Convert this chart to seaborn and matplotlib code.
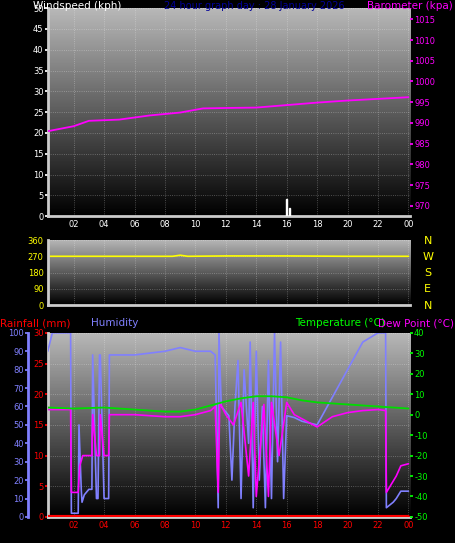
import numpy as np
import matplotlib
matplotlib.use("Agg")
import matplotlib.pyplot as plt
import seaborn as sns
from matplotlib.colors import LinearSegmentedColormap

# --- data ---
baro_t = [0.3, 2, 3, 5, 7, 9, 10.5, 12, 14, 16, 18, 20, 22, 24]
baro_v = [988.0, 989.2, 990.5, 990.8, 991.8, 992.5, 993.5, 993.6, 993.7, 994.3, 994.9, 995.4, 995.8, 996.2]

wind_t = [16.0, 16.2]
wind_v = [4.0, 2.0]

dir_t = [0.3, 8.5, 9.0, 9.5, 12, 16, 20, 24]
dir_v = [270, 270, 276, 270, 272, 272, 270, 270]

hum_t = [0.3, 0.6, 1.0, 1.8, 1.85, 2.3, 2.35, 2.5, 2.55, 2.7, 3.0, 3.2, 3.25, 3.5, 3.6,
         3.7, 3.75, 4.0, 4.05, 4.3, 4.35, 6, 8, 9, 10, 11, 11.3, 11.5, 11.55, 11.7,
         12.2, 12.4, 12.6, 12.8, 13.0, 13.2, 13.5, 13.6, 13.8, 14.0, 14.2, 14.4, 14.6,
         14.8, 15.0, 15.2, 15.4, 15.6, 15.8, 16.0, 16.5, 17, 18, 19, 20, 21, 22, 22.5,
         22.55, 23.0, 23.2, 23.5, 24.0]
hum_v = [90, 100, 100, 100, 2, 2, 50, 15, 8, 12, 15, 15, 88, 10, 10,
         88, 88, 10, 10, 10, 88, 88, 90, 92, 90, 90, 88, 5, 100, 60,
         55, 20, 60, 85, 10, 80, 40, 95, 5, 90, 20, 60, 5,
         85, 10, 100, 30, 95, 10, 55, 54, 52, 50, 65, 80, 95, 100, 100,
         5, 8, 10, 14, 14]

temp_t = [0.3, 2, 4, 6, 8, 9, 10, 11, 12, 13, 14, 15, 16, 17, 18, 20, 22, 23, 24]
temp_v = [3.5, 3.0, 3.5, 2.5, 1.5, 1.5, 2.5, 4.5, 6.5, 8.0, 9.0, 9.0, 8.5, 7.0, 6.0, 5.0, 4.0, 3.5, 3.0]

dew_t = [0.3, 1.8, 1.85, 2.3, 2.4, 2.6, 3.2, 3.25, 3.5, 3.7, 3.75, 4.0, 4.3, 4.35, 6, 8, 9,
         10, 11, 11.3, 11.5, 11.6, 12, 12.5, 13, 13.5, 13.8, 14, 14.5, 14.8, 15, 15.5, 16,
         16.5, 17, 18, 19, 20, 21, 22, 22.5, 22.55, 23.2, 23.5, 24.0]
dew_v = [2.5, 2.5, -38, -38, -25, -20, -20, 0, -20, -20, 0, -20, -20, 0, 0, -1, -1,
         0, 2, 4, -38, 6, 0, -5, 6, -30, 6, -40, 5, -40, 6, -20, 6,
         0, -2, -6, -1, 1, 2, 2.5, 2.0, -38, -30, -25, -24]

rain_t = [0.3, 24.0]
rain_v = [0.0, 0.0]

xticks = [2, 4, 6, 8, 10, 12, 14, 16, 18, 20, 22, 24]
xlabels = ["02", "04", "06", "08", "10", "12", "14", "16", "18", "20", "22", "00"]

sns.set_theme(style="dark")
plt.rcParams["font.family"] = ["DejaVu Sans"]
plt.rcParams["font.size"] = 6
plt.rcParams["axes.unicode_minus"] = False

fig = plt.figure(figsize=(4.55, 5.43), dpi=100, facecolor="black")
grad = LinearSegmentedColormap.from_list("g", ["#000000", "#b8b8b8"])
img = np.linspace(0, 1, 200).reshape(-1, 1)[::-1]


def base(ax, tickcol):
    ax.set_facecolor("black")
    ax.imshow(img, cmap=grad, extent=[0, 1, 0, 1], transform=ax.transAxes,
              aspect="auto", zorder=0)
    ax.set_xlim(0.3, 24.1)
    ax.set_xticks(xticks)
    ax.set_xticklabels(xlabels, color="yellow", fontsize=6)
    ax.grid(True, color="white", alpha=0.35, linestyle=":", linewidth=0.6)
    for s in ax.spines.values():
        s.set_visible(False)
    ax.spines["bottom"].set_visible(True)
    ax.spines["bottom"].set_color("#cccccc")
    ax.spines["bottom"].set_linewidth(2)
    ax.tick_params(colors=tickcol, length=2, pad=1, labelsize=6)


# top: wind + barometer
ax1 = fig.add_axes([0.105, 0.602, 0.796, 0.383])
base(ax1, "white")
ax1.bar(wind_t, wind_v, width=0.1, color="white", zorder=3)
ax1.set_ylim(0, 50)
ax1.set_yticks(range(0, 51, 5))
ax1.tick_params(axis="y", colors="white")
ax1.spines["left"].set_visible(True)
ax1.spines["left"].set_color("#cccccc")
ax1.spines["left"].set_linewidth(2)
ax1b = ax1.twinx()
sns.lineplot(x=baro_t, y=baro_v, ax=ax1b, color="#ff00ff", linewidth=1.3)
ax1b.set_ylim(967.5, 1017.7)
ax1b.set_yticks(range(970, 1016, 5))
ax1b.tick_params(axis="y", colors="#ff00ff", length=2, pad=1, labelsize=6)
ax1b.set_xlim(0.3, 24.1)
for s in ax1b.spines.values():
    s.set_visible(False)
ax1b.grid(False)
fig.text(0.072, 0.998, "Windspeed (kph)", color="white", fontsize=7.5, ha="left", va="top")
fig.text(0.56, 0.998, "24 hour graph day : 28 January 2026", color="#000099", fontsize=7, ha="center", va="top")
fig.text(0.995, 0.998, "Barometer (kpa)", color="#ff00ff", fontsize=7.5, ha="right", va="top")

# middle: wind direction
ax2 = fig.add_axes([0.105, 0.438, 0.796, 0.12])
base(ax2, "yellow")
sns.lineplot(x=dir_t, y=dir_v, ax=ax2, color="yellow", linewidth=1.2)
ax2.set_ylim(0, 360)
ax2.set_yticks([0, 90, 180, 270, 360])
ax2.set_xticklabels([])
ax2.spines["left"].set_visible(True)
ax2.spines["left"].set_color("#cccccc")
ax2.spines["left"].set_linewidth(2)
for i, lab in enumerate(["N", "W", "S", "E", "N"]):
    fig.text(0.94, 0.557 - i * 0.03, lab, color="yellow", fontsize=8, ha="center", va="center")

# bottom: rain / humidity / temperature / dew point
ax3 = fig.add_axes([0.105, 0.048, 0.796, 0.339])
base(ax3, "red")
ax3.set_ylim(0, 30)
ax3.set_yticks(range(0, 31, 5))
ax3.spines["left"].set_visible(True)
ax3.spines["left"].set_color("#cccccc")
ax3.spines["left"].set_linewidth(2)
sns.lineplot(x=rain_t, y=rain_v, ax=ax3, color="red", linewidth=3, zorder=5)

axh = ax3.twinx()
axh.spines["left"].set_position(("axes", -0.055))
axh.spines["left"].set_visible(True)
axh.spines["left"].set_color("#8080ff")
axh.spines["left"].set_linewidth(2)
for k in ["right", "top", "bottom"]:
    axh.spines[k].set_visible(False)
axh.yaxis.set_label_position("left")
axh.yaxis.set_ticks_position("left")
axh.set_ylim(0, 100)
axh.set_yticks(range(0, 101, 10))
axh.tick_params(axis="y", colors="#8080ff", length=2, pad=1, labelsize=6)
axh.grid(False)
sns.lineplot(x=hum_t, y=hum_v, ax=axh, color="#8080ff", linewidth=1.2)

axt = ax3.twinx()
for s in axt.spines.values():
    s.set_visible(False)
axt.set_ylim(-50, 40)
axt.set_yticks(range(-50, 41, 10))
axt.tick_params(axis="y", colors="#00ff00", length=2, pad=1, labelsize=6)
axt.grid(False)
sns.lineplot(x=dew_t, y=dew_v, ax=axt, color="#ff00ff", linewidth=1.2)
sns.lineplot(x=temp_t, y=temp_v, ax=axt, color="#00dd00", linewidth=1.3)
for a in (axh, axt):
    a.set_xlim(0.3, 24.1)
    a.set_xlabel("")
    a.set_ylabel("")

fig.text(0.0, 0.405, "Rainfall (mm)", color="red", fontsize=7.5, ha="left", va="center")
fig.text(0.2, 0.405, "Humidity", color="#8080ff", fontsize=7.5, ha="left", va="center")
fig.text(0.845, 0.405, "Temperature (°C)", color="#00ff00", fontsize=7.5, ha="right", va="center")
fig.text(0.998, 0.405, "Dew Point (°C)", color="#ff00ff", fontsize=7.5, ha="right", va="center")

fig.savefig("out.png", dpi=100, facecolor="black")
